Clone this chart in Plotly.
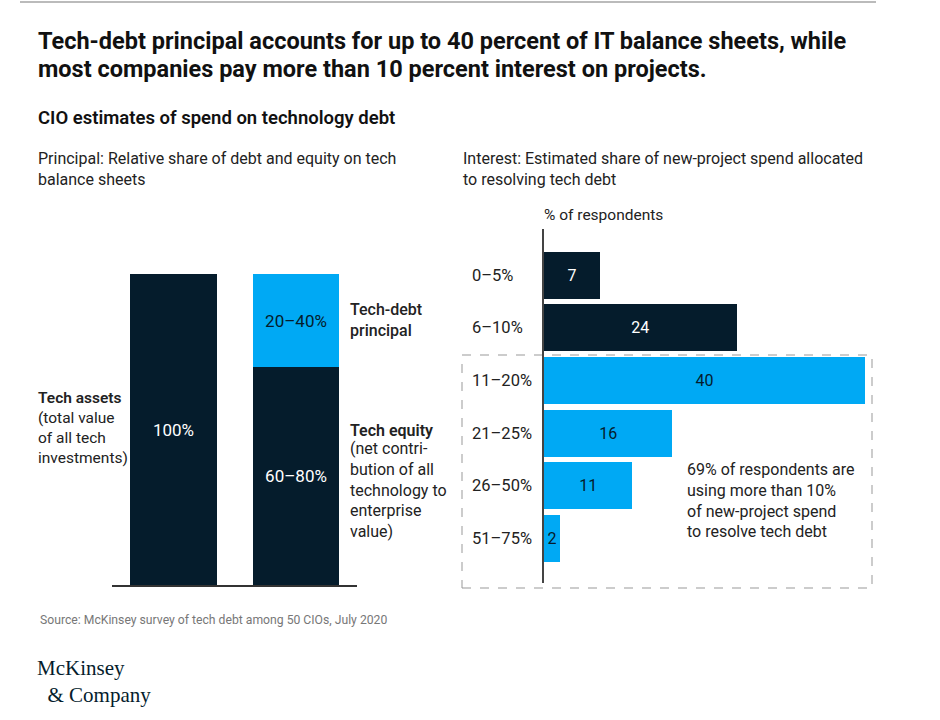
import plotly.graph_objects as go

W, H = 940, 720
def px(x): return x / W
def py(y): return 1 - y / H

# ---------------- data ----------------
# Left panel: principal (share of tech balance sheet, %)
left_x = [0, 1]
assets_value = [100]
assets_label = ["100%"]
equity_value = [70]
equity_label = ["60–80%"]
debt_value = [30]
debt_label = ["20–40%"]

# Right panel: interest (% of respondents)
interest_cats = ["0–5%", "6–10%", "11–20%", "21–25%", "26–50%", "51–75%"]
interest_vals = [7, 24, 40, 16, 11, 2]
above_10pct = [False, False, True, True, True, True]

DARK = "#051C2C"
BLUE = "#00A9F4"
TXT = "#222222"
FONT = "Roboto"

fig = go.Figure()

# Left panel bars
fig.add_trace(go.Bar(x=[left_x[0]], y=assets_value, text=assets_label, width=0.71,
                     marker=dict(color=DARK, line=dict(width=0)),
                     textposition="inside", insidetextanchor="middle",
                     textfont=dict(color="white", size=17, family=FONT),
                     xaxis="x", yaxis="y", showlegend=False))
fig.add_trace(go.Bar(x=[left_x[1]], y=equity_value, text=equity_label, width=0.71,
                     marker=dict(color=DARK, line=dict(width=0)),
                     textposition="inside", insidetextanchor="middle",
                     textfont=dict(color="white", size=17, family=FONT),
                     xaxis="x", yaxis="y", showlegend=False))
fig.add_trace(go.Bar(x=[left_x[1]], y=debt_value, text=debt_label, width=0.71,
                     marker=dict(color=BLUE, line=dict(width=0)),
                     textposition="inside", insidetextanchor="middle",
                     textfont=dict(color=DARK, size=17, family=FONT),
                     xaxis="x", yaxis="y", showlegend=False))

# Right panel bars
bar_colors = [BLUE if a else DARK for a in above_10pct]
text_colors = [DARK if a else "white" for a in above_10pct]
fig.add_trace(go.Bar(y=interest_cats, x=interest_vals, orientation="h", width=0.89,
                     text=[str(v) for v in interest_vals],
                     marker=dict(color=bar_colors, line=dict(width=0)),
                     textposition="inside", insidetextanchor="middle",
                     constraintext="none", cliponaxis=False,
                     textfont=dict(color=text_colors, size=16, family=FONT),
                     xaxis="x2", yaxis="y2", showlegend=False))

annotations = []
def ann(x, y, text, size=16, color=TXT, xanchor="left", yanchor="middle",
        weight="normal", family=FONT, **kw):
    annotations.append(dict(x=px(x), y=py(y), xref="paper", yref="paper", text=text,
                            showarrow=False, xanchor=xanchor, yanchor=yanchor, align="left",
                            font=dict(size=size, color=color, family=family, weight=weight), **kw))

# Titles
ann(36, 41, "Tech-debt principal accounts for up to 40 percent of IT balance sheets, while",
    size=23.5, color="#111111", weight="bold")
ann(36, 69, "most companies pay more than 10 percent interest on projects.",
    size=23.5, color="#111111", weight="bold")
ann(36, 118, "CIO estimates of spend on technology debt", size=18.5, color="#111111", weight=600)
ann(36, 169, "Principal: Relative share of debt and equity on tech<br>balance sheets", size=16)
ann(461, 169, "Interest: Estimated share of new-project spend allocated<br>to resolving tech debt", size=16)

# Left panel labels
ann(36, 398, "Tech assets", size=15.5, weight=600)
ann(36, 438, "(total value<br>of all tech<br>investments)", size=15.5)
ann(348, 320, "Tech-debt<br>principal", size=16, weight=500)
ann(348, 430, "Tech equity", size=16, weight=600)
ann(348, 490, "(net contri-<br>bution of all<br>technology to<br>enterprise<br>value)", size=16)

# Right panel labels
ann(542, 215, "% of respondents", size=15.5)
for c in interest_cats:
    annotations.append(dict(x=px(470), xref="paper", y=c, yref="y2", text=c, showarrow=False,
                            xanchor="left", yanchor="middle",
                            font=dict(size=16.5, color=TXT, family=FONT)))
ann(685, 500, "69% of respondents are<br>using more than 10%<br>of new-project spend<br>to resolve tech debt",
    size=16)

# Source & logo
ann(38, 620, "Source: McKinsey survey of tech debt among 50 CIOs, July 2020", size=12.2, color="#777777")
ann(35, 681, "McKinsey<br>&nbsp;&nbsp;&amp; Company", size=21, color=DARK, family="Liberation Serif")

shapes = [
    dict(type="line", xref="paper", yref="paper", x0=px(20), x1=px(876), y0=py(2), y1=py(2),
         line=dict(color="#BBBBBB", width=2)),
    dict(type="rect", xref="paper", yref="paper", x0=px(462), x1=px(872), y0=py(588), y1=py(355),
         line=dict(color="#999999", width=1, dash="dash"), layer="below"),
]

fig.update_layout(
    width=W, height=H, margin=dict(l=0, r=0, t=0, b=0),
    paper_bgcolor="white", plot_bgcolor="rgba(0,0,0,0)",
    barmode="stack", showlegend=False,
    font=dict(family=FONT, color=TXT),
    xaxis=dict(domain=[px(112.25), px(357.25)], range=[-0.5, 1.5], showgrid=False, zeroline=False,
               showticklabels=False, ticks="", showline=True, linecolor="#333333", linewidth=2,
               fixedrange=True),
    yaxis=dict(domain=[py(585), py(274)], range=[0, 100], showgrid=False, zeroline=False,
               showticklabels=False, ticks="", showline=False, fixedrange=True),
    xaxis2=dict(domain=[px(544), px(865)], range=[0, 40], anchor="y2", showgrid=False, zeroline=False,
                showticklabels=False, ticks="", showline=False, fixedrange=True),
    yaxis2=dict(domain=[py(583), py(229)], anchor="x2", type="category",
                categoryorder="array", categoryarray=interest_cats,
                range=[5.85, -0.88], showgrid=False, zeroline=False,
                showticklabels=False, ticks="", showline=True, linecolor="#444444", linewidth=2,
                fixedrange=True),
    annotations=annotations, shapes=shapes,
)

fig.write_html("out.html")
